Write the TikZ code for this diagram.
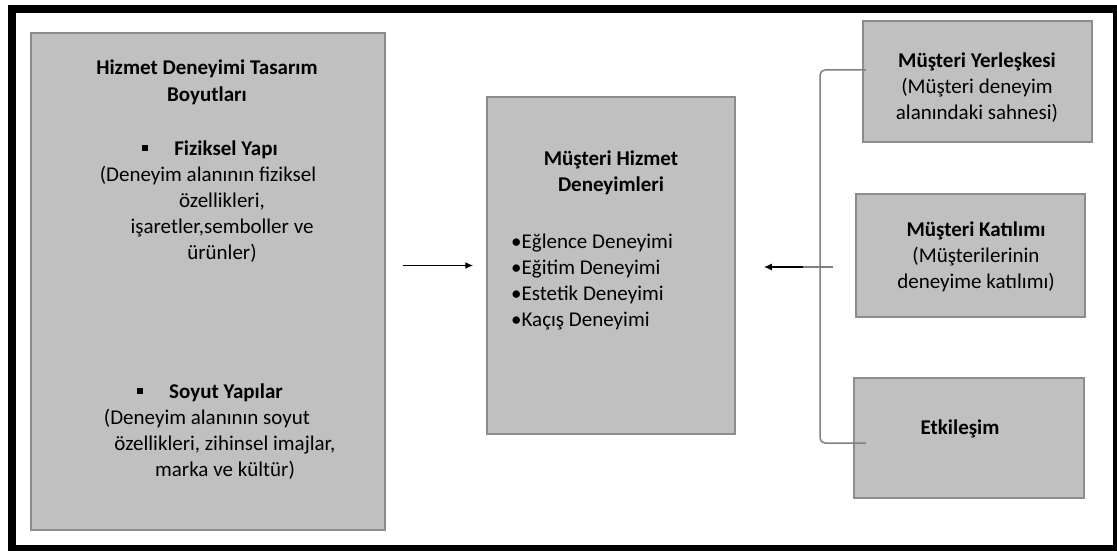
\documentclass[tikz,border=0pt]{standalone}
\usepackage{fontspec}
\setmainfont{Carlito}
\usetikzlibrary{arrows.meta,positioning,calc}
\definecolor{boxgray}{HTML}{C0C0C0}
\definecolor{edgegray}{HTML}{8C8C8C}
\definecolor{bracegray}{HTML}{808080}
\newcommand\sqbul{\rule[4pt]{6pt}{6pt}\hspace{26pt}}

\begin{document}
\begin{tikzpicture}[x=1pt, y=-1pt, >={Latex[length=8pt,width=7pt]},
    font=\fontsize{21}{26}\selectfont,
    box/.style={draw=edgegray, fill=boxgray, line width=1.5pt, inner sep=0pt},
    txt/.style={align=center, inner sep=0pt, anchor=base},
    ttl/.style={txt, font=\fontsize{21}{26}\selectfont\bfseries},
    arr/.style={->, line width=1.4pt},
    brace/.style={draw=bracegray, line width=1.5pt, rounded corners=5pt}]
  \useasboundingbox (0,0) rectangle (1117,551);
  % ---------------- outer frame ----------------
  \draw[line width=8pt] (12,9) rectangle (1117,549);
  % ---------------- boxes ----------------
  \node[box, minimum width=354pt, minimum height=497pt] (dims) at (208,281.5) {};
  \node[box, minimum width=248pt, minimum height=337pt] (exp) at (611,265.5) {};
  \node[box, minimum width=229pt, minimum height=121pt] (camp) at (977.5,81.5) {};
  \node[box, minimum width=229pt, minimum height=123pt] (part) at (970.5,255.5) {};
  \node[box, minimum width=230pt, minimum height=120pt] (inter) at (969,438) {};
  % ---------------- left box: design dimensions (base = last line) ----------------
  \node[ttl] (dimsT) at (207,101) {Hizmet Deneyimi Tasarım\\Boyutları};
  \node[ttl] (physT) at (210,155) {\sqbul Fiziksel Yapı};
  \node[txt] (physD) at (222,259) {(Deneyim alanının fiziksel\hspace*{28pt}\\özellikleri,\\işaretler,semboller ve\\ürünler)};
  \node[ttl] (abstT) at (210,398) {\sqbul Soyut Yapılar};
  \node[txt] (abstD) at (225,476) {(Deneyim alanının soyut\hspace*{36pt}\\özellikleri, zihinsel imajlar,\\marka ve kültür)};
  % ---------------- middle box: experiences ----------------
  \node[ttl] (expT) at (611,191) {Müşteri Hizmet\\Deneyimleri};
  \node[txt, align=left, anchor=base west] (expL) at (511,326)
    {\textbullet Eğlence Deneyimi\\\textbullet Eğitim Deneyimi\\\textbullet Estetik Deneyimi\\\textbullet Kaçış Deneyimi};
  % ---------------- right boxes ----------------
  \node[ttl] (campT) at (977,67) {Müşteri Yerleşkesi};
  \node[txt] (campD) at (977,119) {(Müşteri deneyim\\alanındaki sahnesi)};
  \node[ttl] (partT) at (976,236) {Müşteri Katılımı};
  \node[txt] (partD) at (976,288) {(Müşterilerinin\\deneyime katılımı)};
  \node[ttl] (interT) at (960,434) {Etkileşim};
  % ---------------- brace and arrows ----------------
  \coordinate (bTop) at (866,70);
  \coordinate (bBot) at (866,443);
  \coordinate (bTip) at (803,267);
  \coordinate (bMid) at (833,267);
  \draw[brace] (bTop) -- (820,70) -- (820,443) -- (bBot);
  \draw[brace] (bTip) -- (bMid);
  \draw[arr, shorten <=17pt, shorten >=13pt] (dims.east |- exp.west) -- (exp.west);
  \draw[arr, shorten >=28pt] (bTip) -- (exp.east |- bTip);
\end{tikzpicture}
\end{document}
